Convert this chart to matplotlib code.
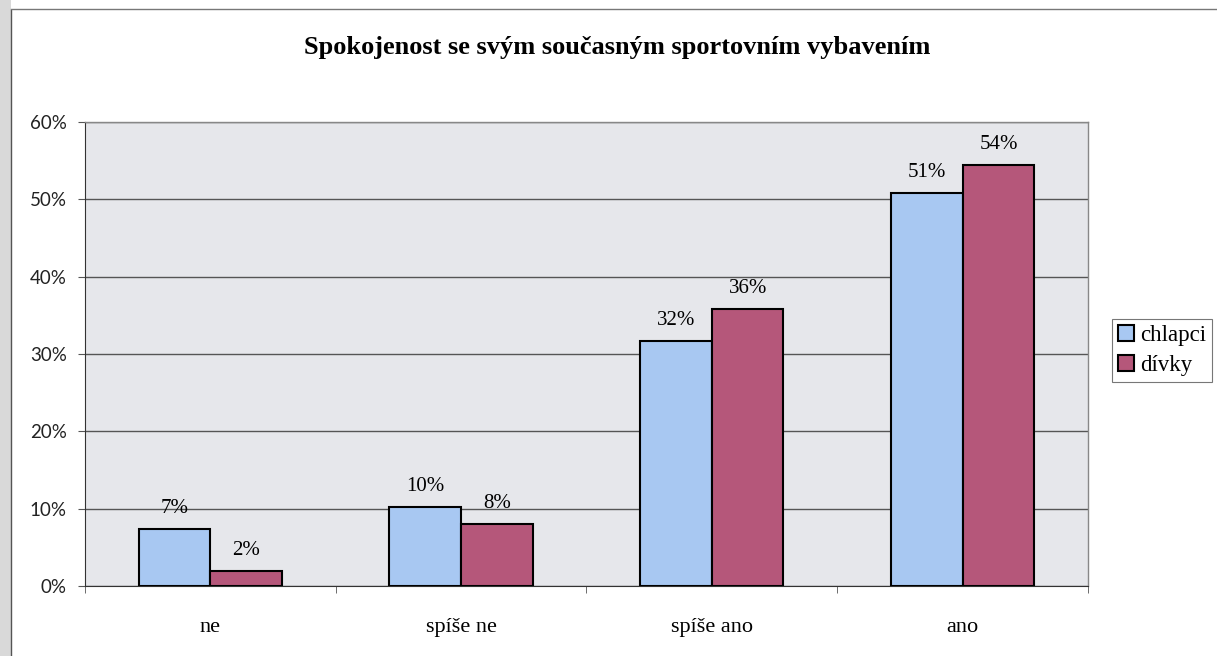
import numpy as np
import matplotlib as mpl
import matplotlib.pyplot as plt

mpl.use('Agg')

kategorie = ["ne", "spíše ne", "spíše ano", "ano"]
chlapci = [7.4, 10.2, 31.7, 50.8]
divky = [1.9, 8.0, 35.8, 54.4]
popisky_y = [0, 10, 20, 30, 40, 50, 60]

serif = "Liberation Serif"

fig = plt.figure(figsize=(12.17, 6.56), dpi=100)
fig.patch.set_facecolor("white")

# okraj listu vlevo a nahore
fig.add_artist(plt.Rectangle((0, 0), 0.009, 1, transform=fig.transFigure,
                             facecolor="#d9d9d9", edgecolor="none"))
fig.add_artist(plt.Line2D([0.009, 0.009], [0, 0.985], transform=fig.transFigure,
                          color="#555555", lw=1))
fig.add_artist(plt.Line2D([0.009, 1], [0.987, 0.987], transform=fig.transFigure,
                          color="#777777", lw=1))

ax = fig.add_axes([0.0698, 0.1067, 0.8242, 0.7073])
ax.set_facecolor("#e6e7eb")

x = np.arange(len(kategorie))
w = 0.2857
b1 = ax.bar(x - w / 2, chlapci, w, color="#a8c8f2", edgecolor="black",
            linewidth=1.5, label="chlapci", zorder=3)
b2 = ax.bar(x + w / 2, divky, w, color="#b5577a", edgecolor="black",
            linewidth=1.5, label="dívky", zorder=3)

for bars in (b1, b2):
    for r in bars:
        v = r.get_height()
        ax.annotate("%.0f%%" % v, (r.get_x() + r.get_width() / 2, v),
                    xytext=(0, 8), textcoords="offset points",
                    ha="center", va="bottom", fontsize=15, family=serif)

ax.set_xlim(-0.5, len(kategorie) - 0.5)
ax.set_ylim(0, 60)
ax.yaxis.grid(True, color="#555555", linewidth=1, zorder=0)
ax.set_axisbelow(True)

ax.tick_params(axis="x", which="major", length=0, pad=23,
               labelfontfamily=serif, labelsize=16)
ax.tick_params(axis="x", which="minor", length=5, direction="out", color="#555555")
ax.tick_params(axis="y", length=5, direction="out", color="#555555", pad=8,
               labelfontfamily="Lato", labelsize=13.5, labelcolor="#222222")

ax.set_yticks(popisky_y)
ax.set_yticklabels(["%d%%" % v for v in popisky_y], fontfamily="Lato")
ax.set_xticks(x)
ax.set_xticklabels(kategorie, fontfamily=serif, fontsize=16)
ax.set_xticks(np.arange(len(kategorie) + 1) - 0.5, minor=True)

for s in ("top", "right"):
    ax.spines[s].set_color("#888888")
    ax.spines[s].set_linewidth(1)
ax.spines["left"].set_color("#333333")
ax.spines["bottom"].set_color("#333333")

fig.text(0.507, 0.928, "Spokojenost se svým současným sportovním vybavením",
         ha="center", va="center", fontsize=19, fontweight="bold", family=serif)

leg = fig.legend(handles=[b1, b2], loc="center left",
                 bbox_to_anchor=(0.914, 0.466), prop={"family": serif, "size": 16.5},
                 frameon=True, fancybox=False, handlelength=0.7, handleheight=0.7,
                 handletextpad=0.25, borderpad=0.25, labelspacing=0.4,
                 borderaxespad=0)
leg.get_frame().set_edgecolor("#555555")
leg.get_frame().set_linewidth(0.8)

fig.savefig("out.png", dpi=100)
